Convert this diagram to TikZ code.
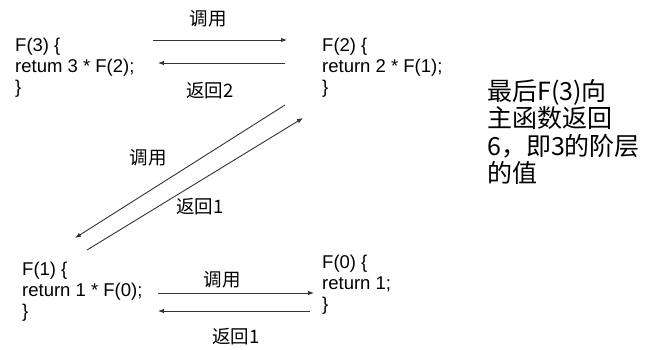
\documentclass[tikz,border=0pt]{standalone}
\usepackage{fontspec}
\setmainfont{Liberation Sans}
\newfontfamily\cjk{Noto Sans CJK SC}
\usepackage{tikz}
\usetikzlibrary{positioning,arrows.meta}

\begin{document}
\begin{tikzpicture}[x=1pt,y=-1pt]
  \useasboundingbox (0,0) rectangle (646,349);
  \tikzstyle{code}=[align=left, anchor=north west, inner sep=0pt, font=\fontsize{18.5}{21}\selectfont]
  \tikzstyle{lbl}=[inner sep=0pt, font=\cjk\fontsize{18.5}{20}\selectfont]
  \tikzstyle{call}=[-{Latex[length=6pt,width=4.5pt]}, draw=black!80, line width=0.9pt]
  % the four calls
  \node[code] (fA) at (15,38) {F(3) \{\\retum 3 * F(2);\\\}};
  \node[code] (fB) at (322,38) {F(2) \{\\return 2 * F(1);\\\}};
  \node[code] (fC) at (22,262) {F(1) \{\\return 1 * F(0);\\\}};
  \node[code] (fD) at (322,255) {F(0) \{\\return 1;\\\}};
  \node[anchor=north west, inner sep=0pt, align=left, font=\cjk\fontsize{25}{27.5}\selectfont]
    (note) at (487,79) {最后F(3)向\\主函数返回\\6，即3的阶层\\的值};
  % arrow ends
  \coordinate (pAB) at (153,40);  \coordinate (qAB) at (287,40);
  \coordinate (pBA) at (285,63);  \coordinate (qBA) at (158,63);
  \coordinate (pBC) at (285,105); \coordinate (qBC) at (75,238);
  \coordinate (pCB) at (87,250);  \coordinate (qCB) at (303,118);
  \coordinate (pCD) at (158,293); \coordinate (qCD) at (314,293);
  \coordinate (pDC) at (310,311); \coordinate (qDC) at (158,311);
  \foreach \x in {AB,BA,BC,CB,CD,DC}{
    \draw[call] (p\x) -- (q\x);
  }
  \foreach \n/\t/\p in {lAB/调用/{(208,19)},lBA/返回2/{(210,91)},lBC/调用/{(148,158)},
                        lCB/返回1/{(200,207)},lCD/调用/{(222,280)},lDC/返回1/{(236,337)}}{
    \node[lbl] (\n) at \p {\t};
  }
\end{tikzpicture}
\end{document}
